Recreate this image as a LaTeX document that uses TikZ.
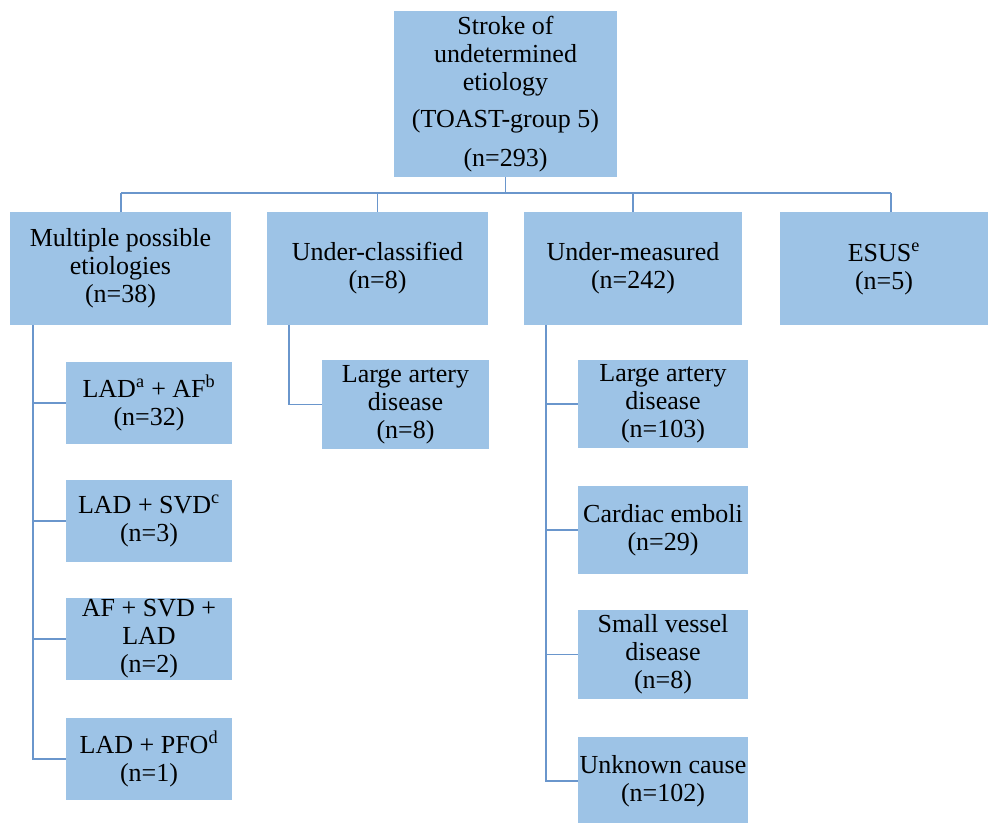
\documentclass[tikz,border=0pt]{standalone}
\usepackage{fontspec}
\setmainfont{Liberation Serif}
\definecolor{boxfill}{HTML}{9DC3E6}
\definecolor{linec}{HTML}{6A96CC}
\begin{document}
\begin{tikzpicture}[x=0.75pt,y=-0.75pt,
  box/.style={rectangle, fill=boxfill, draw=none, align=center, inner sep=0pt,
    font=\fontsize{19.5}{21}\selectfont},
  conn/.style={draw=linec, line width=0.9pt}]
\useasboundingbox (0,0) rectangle (988,823);
\clip (0,0) rectangle (988,823);
% top
\node[box, minimum width=167.25pt, minimum height=124.5pt] (top) at (505.5,94)
  {Stroke of\\undetermined\\etiology\\[7pt](TOAST-group 5)\\[8pt](n=293)};
% row 1
\node[box, minimum width=165.75pt, minimum height=84.75pt] (mult) at (120.5,268.5)
  {Multiple possible\\etiologies\\(n=38)};
\node[box, minimum width=165.75pt, minimum height=84.75pt] (ucl) at (377.5,268.5)
  {Under-classified\\(n=8)};
\node[box, minimum width=163.5pt, minimum height=84.75pt] (ume) at (633,268.5)
  {Under-measured\\(n=242)};
\node[box, minimum width=156pt, minimum height=84.75pt] (esus) at (884,268.5)
  {ESUS\textsuperscript{e}\\(n=5)};
% multiple children
\node[box, minimum width=124.5pt, minimum height=61.5pt] (m1) at (149,403)
  {LAD\textsuperscript{a} + AF\textsuperscript{b}\\(n=32)};
\node[box, minimum width=124.5pt, minimum height=61.5pt] (m2) at (149,521)
  {LAD + SVD\textsuperscript{c}\\(n=3)};
\node[box, minimum width=124.5pt, minimum height=61.5pt] (m3) at (149,639)
  {AF + SVD +\\LAD\\(n=2)};
\node[box, minimum width=124.5pt, minimum height=61.5pt] (m4) at (149,759)
  {LAD + PFO\textsuperscript{d}\\(n=1)};
% under-classified child
\node[box, minimum width=125.25pt, minimum height=66.75pt] (c1) at (405.5,404.5)
  {Large artery\\disease\\(n=8)};
% under-measured children
\node[box, minimum width=127.5pt, minimum height=66pt] (u1) at (663,404)
  {Large artery\\disease\\(n=103)};
\node[box, minimum width=127.5pt, minimum height=66pt] (u2) at (663,530)
  {Cardiac emboli\\(n=29)};
\node[box, minimum width=127.5pt, minimum height=66.75pt] (u3) at (663,654.5)
  {Small vessel\\disease\\(n=8)};
\node[box, minimum width=127.5pt, minimum height=66pt] (u4) at (663,781)
  {Unknown cause\\(n=102)};
\fill[boxfill] ([yshift=0.5pt]u4.south west) rectangle ([yshift=-20pt]u4.south east);
% bus
\coordinate (b1) at (121,193);
\coordinate (b4) at (891,193);
\draw[conn] (top.south) -- (top.south |- b1);
\draw[conn] (b1) -- (b4);
\draw[conn] (b1) -- (b1 |- mult.north);
\draw[conn] (ucl.north |- b1) -- (ucl.north);
\draw[conn] (ume.north |- b1) -- (ume.north);
\draw[conn] (b4) -- (b4 |- esus.north);
% spines
\coordinate (sm) at (33,325);
\draw[conn] (sm) |- (m4.west);
\foreach \n in {m1,m2,m3} \draw[conn] (sm |- \n.west) -- (\n.west);
\coordinate (sc) at (289,325);
\draw[conn] (sc) |- (c1.west);
\coordinate (su) at (546,325);
\draw[conn] (su) |- (u4.west);
\foreach \n in {u1,u2,u3} \draw[conn] (su |- \n.west) -- (\n.west);
\end{tikzpicture}
\end{document}
